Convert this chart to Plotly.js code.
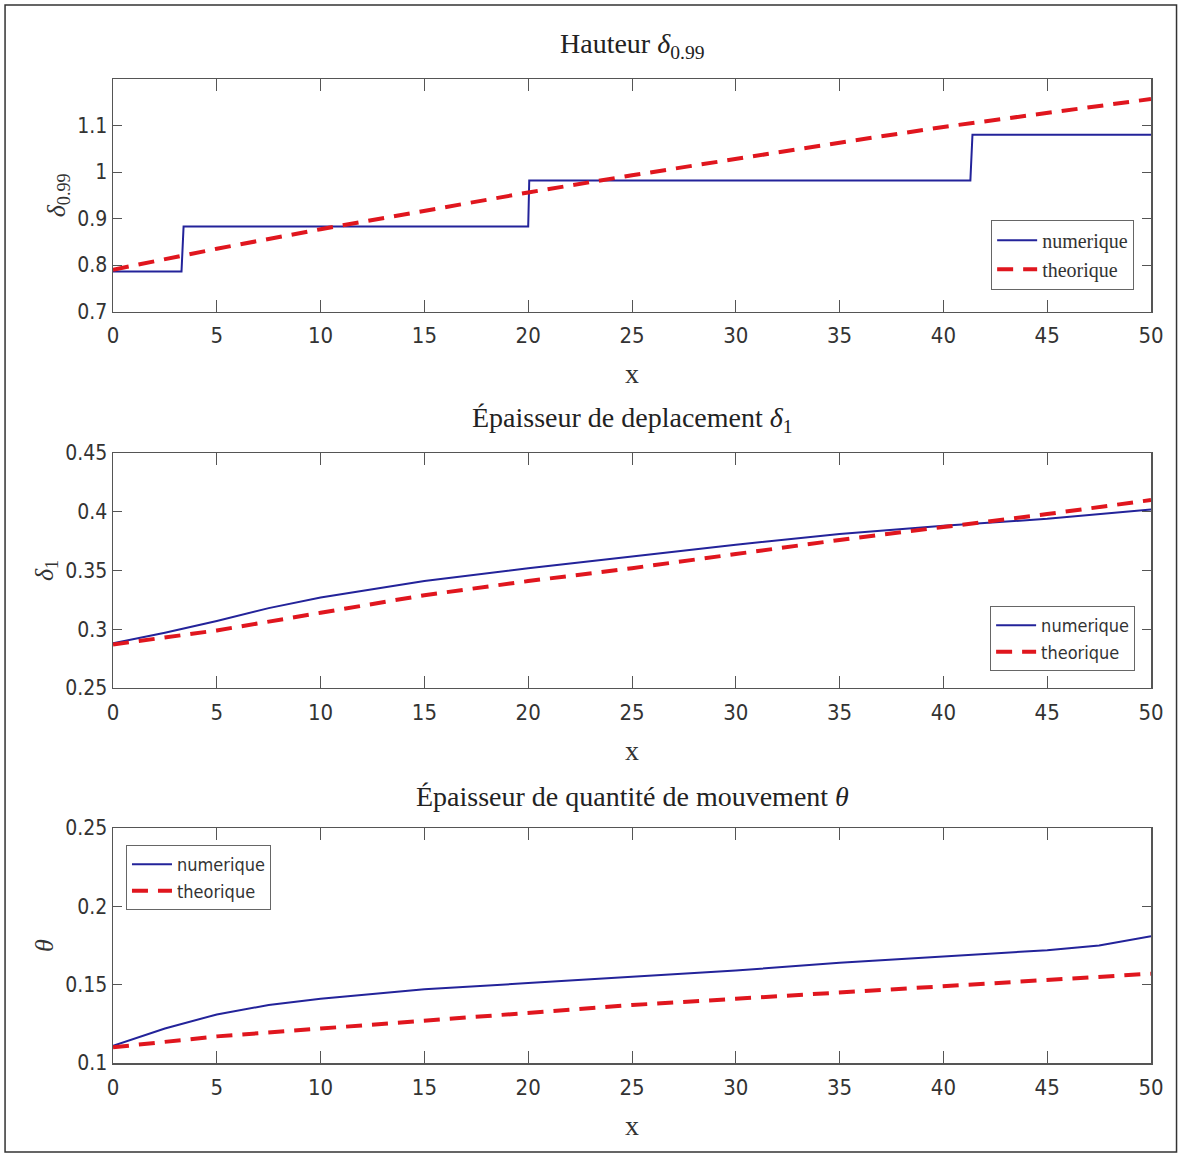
<!DOCTYPE html>
<html>
<head>
<meta charset="utf-8">
<script src="https://cdn.plot.ly/plotly-3.0.1.min.js"></script>
<style>html,body{margin:0;padding:0;background:#fff;}#chart{width:1181px;height:1155px;}</style>
</head>
<body>
<div id="chart"></div>
<script>
// Panel 1: Hauteur delta_0.99
const x1Num = [0, 3.3, 3.4, 20.0, 20.05, 41.3, 41.4, 50];
const y1Num = [0.786, 0.786, 0.883, 0.883, 0.982, 0.982, 1.080, 1.080];
const x1The = [0, 5, 10, 15, 20, 25, 30, 35, 40, 45, 50];
const y1The = [0.790, 0.835, 0.877, 0.917, 0.956, 0.993, 1.029, 1.063, 1.097, 1.128, 1.157];

// Panel 2: displacement thickness delta_1
const x2Num = [0, 2.5, 5, 7.5, 10, 15, 20, 25, 30, 35, 40, 45, 50];
const y2Num = [0.288, 0.297, 0.307, 0.318, 0.327, 0.341, 0.352, 0.362, 0.372, 0.381, 0.388, 0.394, 0.402];
const x2The = [0, 5, 10, 15, 20, 25, 30, 35, 40, 45, 50];
const y2The = [0.287, 0.299, 0.314, 0.329, 0.341, 0.352, 0.364, 0.376, 0.387, 0.398, 0.410];

// Panel 3: momentum thickness theta
const x3Num = [0, 2.5, 5, 7.5, 10, 15, 20, 25, 30, 35, 40, 45, 47.5, 50];
const y3Num = [0.111, 0.122, 0.131, 0.137, 0.141, 0.147, 0.151, 0.155, 0.159, 0.164, 0.168, 0.172, 0.175, 0.181];
const x3The = [0, 5, 10, 15, 20, 25, 30, 35, 40, 45, 50];
const y3The = [0.110, 0.117, 0.122, 0.127, 0.132, 0.137, 0.141, 0.145, 0.149, 0.153, 0.157];

const seriesNames = ['numerique', 'theorique'];
const panelTitles = ['Hauteur <i>δ</i><sub>0.99</sub>', 'Épaisseur de deplacement <i>δ</i><sub>1</sub>', 'Épaisseur de quantité de mouvement <i>θ</i>'];
const yTitles = ['<i>δ</i><sub>0.99</sub>', '<i>δ</i><sub>1</sub>', '<i>θ</i>'];
const xTitle = 'x';
const yRanges = [[0.7, 1.2], [0.25, 0.45], [0.1, 0.25]];
const yTicks = [[0.7, 0.8, 0.9, 1, 1.1], [0.25, 0.3, 0.35, 0.4, 0.45], [0.1, 0.15, 0.2, 0.25]];
const yTickText = [['0.7', '0.8', '0.9', '1', '1.1'], ['0.25', '0.3', '0.35', '0.4', '0.45'], ['0.1', '0.15', '0.2', '0.25']];
const xTicks = [0, 5, 10, 15, 20, 25, 30, 35, 40, 45, 50];

const BLUE = '#23239a';
const RED = '#e0161e';
const SANS = "'Liberation Sans Narrow','DejaVu Sans Condensed','Arial Narrow','Liberation Sans',sans-serif";
const SERIF = "'Liberation Serif','DejaVu Serif',serif";

const numX = [x1Num, x2Num, x3Num], numY = [y1Num, y2Num, y3Num];
const theX = [x1The, x2The, x3The], theY = [y1The, y2The, y3The];
const legendIds = ['legend', 'legend2', 'legend3'];

const traces = [];
for (let i = 0; i < 3; i++) {
  const ax = i === 0 ? '' : String(i + 1);
  traces.push({x: numX[i], y: numY[i], type: 'scatter', mode: 'lines', name: seriesNames[0],
    xaxis: 'x' + ax, yaxis: 'y' + ax, legend: legendIds[i],
    line: {color: BLUE, width: 2}});
  traces.push({x: theX[i], y: theY[i], type: 'scatter', mode: 'lines', name: seriesNames[1],
    xaxis: 'x' + ax, yaxis: 'y' + ax, legend: legendIds[i],
    line: {color: RED, width: 4, dash: '16px,10px'}});
}

const domains = [[0.7637, 1.0], [0.3811, 0.6199], [0.0, 0.2388]];
const layout = {
  width: 1181, height: 1155,
  margin: {l: 113, r: 30, t: 79, b: 92},
  paper_bgcolor: '#ffffff', plot_bgcolor: '#ffffff',
  showlegend: true,
  annotations: [],
  shapes: [{type: 'rect', xref: 'paper', yref: 'paper', x0: -0.1040, x1: 1.0246, y0: -0.0904, y1: 1.0752,
    line: {color: '#333', width: 1.5}, layer: 'below'}]
};

for (let i = 0; i < 3; i++) {
  const ax = i === 0 ? '' : String(i + 1);
  layout['xaxis' + ax] = {
    domain: [0, 1], anchor: 'y' + ax, range: [0, 50], tickvals: xTicks,
    ticks: 'inside', ticklen: 12, tickcolor: '#555', tickwidth: 1,
    showline: true, linecolor: '#555', linewidth: 1.5, mirror: 'ticks',
    showgrid: false, zeroline: false, ticklabelstandoff: 4,
    tickfont: {family: SANS, size: 22, color: '#333'},
    title: {text: xTitle, font: {family: SERIF, size: 28, color: '#333'}, standoff: 16}
  };
  layout['yaxis' + ax] = {
    domain: domains[i], anchor: 'x' + ax, range: yRanges[i],
    tickvals: yTicks[i], ticktext: yTickText[i],
    ticks: 'inside', ticklen: 9, tickcolor: '#555', tickwidth: 1,
    showline: true, linecolor: '#555', linewidth: 1.5, mirror: 'ticks',
    showgrid: false, zeroline: false,
    tickfont: {family: SANS, size: 21, color: '#333'},
    title: {text: yTitles[i], font: {family: SERIF, size: 26, color: '#333'}, standoff: 4}
  };
  layout.annotations.push({
    text: panelTitles[i], xref: 'paper', yref: 'paper', x: 0.5, y: domains[i][1],
    xanchor: 'center', yanchor: 'bottom', yshift: 14, showarrow: false,
    font: {family: SERIF, size: 28, color: '#222'}
  });
}

layout.legend = {x: 0.846, y: 0.857, xanchor: 'left', yanchor: 'top',
  bgcolor: '#fff', bordercolor: '#666', borderwidth: 1, itemwidth: 40, tracegroupgap: 0,
  font: {family: SERIF, size: 20, color: '#333'}};
layout.legend2 = {x: 0.845, y: 0.4644, xanchor: 'left', yanchor: 'top',
  bgcolor: '#fff', bordercolor: '#666', borderwidth: 1, itemwidth: 40, tracegroupgap: 0,
  font: {family: SANS, size: 18, color: '#333'}};
layout.legend3 = {x: 0.0125, y: 0.2215, xanchor: 'left', yanchor: 'top',
  bgcolor: '#fff', bordercolor: '#666', borderwidth: 1, itemwidth: 40, tracegroupgap: 0,
  font: {family: SANS, size: 18, color: '#333'}};

Plotly.newPlot('chart', traces, layout, {staticPlot: true, displayModeBar: false});
</script>
</body>
</html>
